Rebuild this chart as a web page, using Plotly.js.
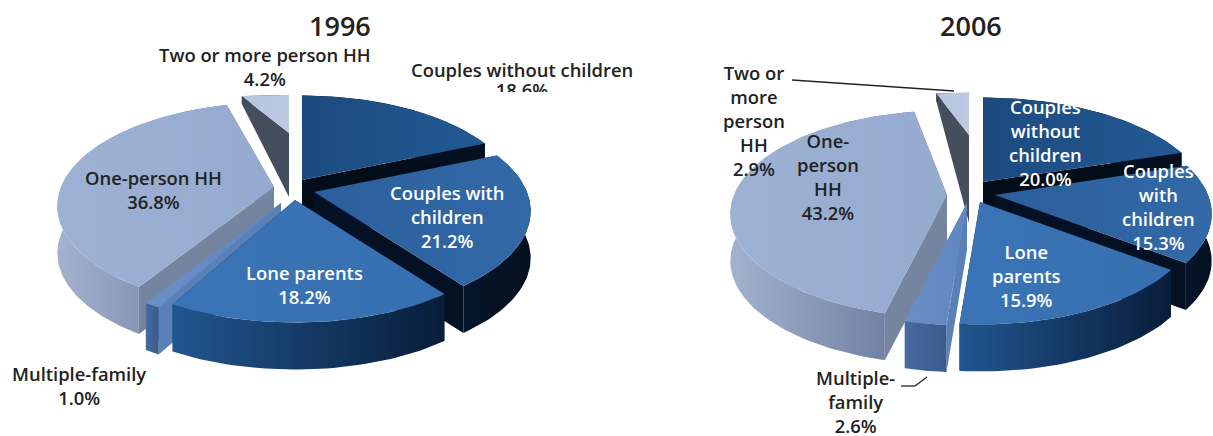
<!DOCTYPE html>
<html><head><meta charset="utf-8">
<script src="https://cdn.plot.ly/plotly-3.0.1.min.js"></script>
<style>html,body{margin:0;padding:0;background:#fff}#c{width:1213px;height:436px}</style>
</head><body><div id="c"></div>
<script>
const categories = ["Couples without children","Couples with children","Lone parents","Multiple-family","One-person HH","Two or more person HH"];
const values1996 = [18.6,21.2,18.2,1.0,36.8,4.2];
const values2006 = [20.0,15.3,15.9,2.6,43.2,2.9];
const years = ["1996","2006"];

// slice styling (same order as categories)
const topColors = [["#1c4a7e","#235a94"],["#2b5f9c","#3269a6"],["#3a74b6","#3670b0"],["#6a8ec6","#6187c0"],["#9db1d4","#95aacf"],["#b4c5df","#bccae2"]];
const wallColors = [["#04101f","#04101f"],["#06152b","#04101f"],["#215690","#081d3a"],["#466a9f","#3a5a8c"],["#a3b2cf","#68799a"],["#3f4856","#4d5767"]];
const faceColors = ["#030d1a","#041024","#0a2343","#5a80b8","#76859f","#444e5d"];

const geom = {rx:213, ry:100, k:0.184, depth:47};
// placement of each exploded slice: apex, scale of the radius, wall depth at outer edge / at apex
const place1996 = [
 {ax:302,ay:180},{ax:314,ay:192},{ax:295,ay:200},{ax:281,ay:203},{ax:274,ay:187},{ax:289,ay:133,sy:0.45,dO:8,dA:64}];
const place2006 = [
 {ax:983,ay:182,sx:1.035},{ax:995,ay:195},{ax:980,ay:202},{ax:967,ay:203},{ax:947,ay:195},{ax:969,ay:135,sy:0.5,dO:8,dA:88}];

function pt(p,deg,drop){
  const t=deg*Math.PI/180, w=1+geom.k*Math.cos(t), sy=p.sy||1, sx=p.sx||1;
  return [p.ax+sx*geom.rx*Math.sin(t)/w, p.ay-sy*geom.ry*Math.cos(t)/w+(drop||0)];
}
function poly(col,xs,ys){
  return {type:"scatter",mode:"lines",x:xs,y:ys,fill:"toself",line:{width:0},hoverinfo:"skip",showlegend:false,
    fillgradient:{type:"horizontal",colorscale:[[0,col[0]],[1,col[1]]]}};
}
function pieTraces(values,place){
  const total=values.reduce((a,b)=>a+b,0);
  let c=0; const se=values.map(v=>{const s=c; c+=v; return [s/total*360,c/total*360];});
  const order=[5,0,4,1,3,2], out=[];
  order.forEach(i=>{
    const p=place[i],[s,e]=se[i],n=Math.max(6,Math.ceil((e-s)/1.5));
    const arc=[]; for(let j=0;j<=n;j++) arc.push(s+(e-s)*j/n);
    const dO=p.dO===undefined?geom.depth:p.dO, dA=p.dA===undefined?geom.depth:p.dA;
    const A=[p.ax,p.ay], Ad=[p.ax,p.ay+dA];
    [s,e].forEach(a=>{
      const o=pt(p,a),od=pt(p,a,dO);
      out.push(poly([faceColors[i],faceColors[i]],[A[0],o[0],od[0],Ad[0],A[0]],[A[1],o[1],od[1],Ad[1],A[1]]));
    });
    const up=arc.map(a=>pt(p,a)), dn=arc.map(a=>pt(p,a,dO)).reverse();
    const wall=up.concat(dn); wall.push(up[0]);
    out.push(poly(wallColors[i],wall.map(q=>q[0]),wall.map(q=>q[1])));
    const top=[A].concat(up,[A]);
    out.push(poly(topColors[i],top.map(q=>q[0]),top.map(q=>q[1])));
  });
  return out;
}

const FONT="Open Sans, Noto Sans, sans-serif", DK="#222222", WH="#ffffff", FS=18.4;
function note(text,x,y,color,size){
  return {text:text,x:x,y:y,xref:"x",yref:"y",showarrow:false,xanchor:"center",yanchor:"middle",align:"center",
    font:{family:FONT,size:size||FS,color:color,weight:600}};
}
const pct=v=>v.toFixed(1)+"%";
const annotations=[
  note(years[0],340,25,"#222222",27), note(years[1],971,25,"#222222",27),
  note("Two or more person HH<br>"+pct(values1996[5]),265,66,DK),
  note("Couples without children",522,69,DK),
  note("One-person HH<br>"+pct(values1996[4]),153,189,DK),
  note("Couples with<br>children<br>"+pct(values1996[1]),447,216,WH),
  note("Lone parents<br>"+pct(values1996[2]),304,284,WH),
  note("Multiple-family<br>"+pct(values1996[3]),79,385,DK),
  note("Two or<br>more<br>person<br>HH<br>"+pct(values2006[5]),754,120,DK),
  note("One-<br>person<br>HH<br>"+pct(values2006[4]),828,176,DK),
  note("Couples<br>without<br>children<br>"+pct(values2006[0]),1045,142,WH),
  note("Couples<br>with<br>children<br>"+pct(values2006[1]),1158,206,WH),
  note("Lone<br>parents<br>"+pct(values2006[2]),1026,275,WH),
  note("Multiple-<br>family<br>"+pct(values2006[3]),855,401,DK)
];
const clipped={type:"scatter",mode:"text",x:[522],y:[92],text:[pct(values1996[0])],textposition:"middle center",
  textfont:{family:FONT,size:FS,color:DK,weight:600},hoverinfo:"skip",showlegend:false};

const shapes=[
  {type:"rect",x0:470,x1:590,y0:92,y1:110,fillcolor:"#ffffff",line:{width:0},layer:"above"},
  {type:"line",x0:792,y0:80,x1:954,y1:91,line:{color:"#222222",width:1.3},layer:"above"},
  {type:"line",x0:901,y0:386,x1:915,y1:386,line:{color:"#222222",width:1.3},layer:"above"},
  {type:"line",x0:915,y0:386,x1:927,y1:377,line:{color:"#222222",width:1.3},layer:"above"}
];

const data=pieTraces(values1996,place1996).concat(pieTraces(values2006,place2006),[clipped]);
Plotly.newPlot("c",data,{
  width:1213,height:436,margin:{l:0,r:0,t:0,b:0},paper_bgcolor:"#fff",plot_bgcolor:"#fff",showlegend:false,
  xaxis:{range:[0,1213],visible:false,fixedrange:true},
  yaxis:{range:[436,0],visible:false,fixedrange:true},
  annotations:annotations,shapes:shapes
},{displayModeBar:false,staticPlot:true});
</script></body></html>
